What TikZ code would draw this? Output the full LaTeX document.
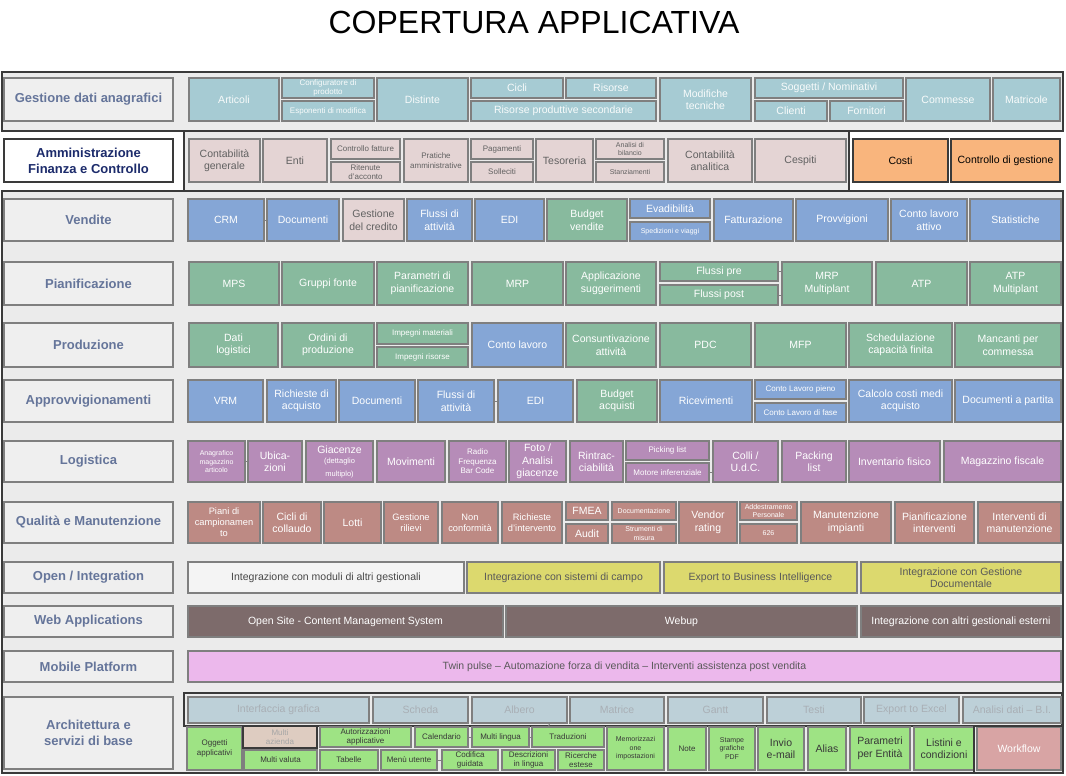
\documentclass[tikz,border=0pt]{standalone}
\usepackage{fontspec}
\setmainfont{Liberation Sans}
\usepackage{tikz}
\definecolor{boxline}{HTML}{7F7F7F}
\definecolor{frameline}{HTML}{3A3A3A}
\definecolor{framefill}{HTML}{EBEBEB}
\definecolor{labelfill}{HTML}{EFEFEF}
\definecolor{labeltext}{HTML}{65759A}
\definecolor{amminnavy}{HTML}{1C2B6B}
\definecolor{anagfill}{HTML}{A6CBD3}
\definecolor{amminfill}{HTML}{E4D4D4}
\definecolor{costfill}{HTML}{F9B57D}
\definecolor{salesfill}{HTML}{85A6D6}
\definecolor{planfill}{HTML}{88BA9E}
\definecolor{logfill}{HTML}{B68CB8}
\definecolor{qualfill}{HTML}{BD8A84}
\definecolor{openfill}{HTML}{F4F4F4}
\definecolor{intfill}{HTML}{DCD96E}
\definecolor{webfill}{HTML}{7D6B6B}
\definecolor{mobilefill}{HTML}{ECB8EC}
\definecolor{archfill}{HTML}{BDD0D8}
\definecolor{archtext}{HTML}{A9AFB5}
\definecolor{basefill}{HTML}{9EE384}
\definecolor{aziendafill}{HTML}{DECCC1}
\definecolor{flowfill}{HTML}{D8A4A4}
\tikzset{cell/.style args={#1,#2,#3,#4}{
        at={({(#1+#3)/2},{(#2+#4)/2})},
        minimum width={(#3-#1)*1pt},
        minimum height={(#4-#2)*1pt}
}}
\tikzset{box/.style={
        draw=boxline,
        line width=1.1pt,
        rectangle,
        inner sep=0pt,
        align=center,
        text=white,
        font=\fontsize{10.5}{12.5}\selectfont
}}
\tikzset{anagbox/.style={box, fill=anagfill, text=white!92!anagfill}}
\tikzset{amminbox/.style={box, fill=amminfill, text=black!62}}
\tikzset{costbox/.style={box, draw=frameline, fill=costfill, text=black}}
\tikzset{salesbox/.style={box, fill=salesfill}}
\tikzset{planbox/.style={box, fill=planfill}}
\tikzset{logbox/.style={box, fill=logfill}}
\tikzset{qualbox/.style={box, fill=qualfill}}
\tikzset{openbox/.style={box, fill=openfill, text=black!72}}
\tikzset{intbox/.style={box, fill=intfill, text=black!65}}
\tikzset{webbox/.style={box, fill=webfill}}
\tikzset{mobilebox/.style={box, fill=mobilefill, text=black!65}}
\tikzset{archbox/.style={box, fill=archfill, text=archtext}}
\tikzset{basebox/.style={box, fill=basefill, text=black!78}}
\tikzset{rowlabel/.style={
        draw=boxline,
        line width=1.1pt,
        fill=labelfill,
        inner sep=0pt,
        align=center,
        text=labeltext,
        font=\fontsize{13}{16}\selectfont\bfseries
}}
\tikzset{frame/.style={draw=frameline, line width=1.5pt, fill=framefill, inner sep=0pt}}
\tikzset{outline/.style={draw=frameline, line width=1.3pt, inner sep=0pt}}
\tikzset{linkedge/.style={draw=boxline, line width=1pt}}
\tikzset{smalltxt/.style={font=\fontsize{8}{9.5}\selectfont}}
\tikzset{tinytxt/.style={font=\fontsize{7}{8.4}\selectfont}}
\tikzset{midtxt/.style={font=\fontsize{9.3}{11}\selectfont}}
\begin{document}
\begin{tikzpicture}[x=1pt,y=-1pt]
\useasboundingbox (0,0) rectangle (1066,776);
\node[anchor=base, font=\fontsize{32}{38}\selectfont] (title) at (534,34) {COPERTURA APPLICATIVA};

\node[frame, cell={2,72,1063,131}] (fanag) {};
\node[frame, cell={184,131,849,191}] (fammin) {};
\node[frame, cell={2,191,1063,773}] (fmain) {};
\node[outline, cell={184,693,1062,726}] (farch) {};

\node[rowlabel, cell={4,78,173,121}] (lanag) {Gestione dati anagrafici};
\node[rowlabel, fill=white, draw=frameline, text=amminnavy, cell={4,139,173,182}] (lammin) {Amministrazione\\Finanza e Controllo};
\node[rowlabel, cell={4,199,173,241}] (lvend) {Vendite};
\node[rowlabel, cell={4,262,173,305}] (lpian) {Pianificazione};
\node[rowlabel, cell={4,323,173,367}] (lprod) {Produzione};
\node[rowlabel, cell={4,380,173,422}] (lacq) {Approvvigionamenti};
\node[rowlabel, cell={4,441,173,482}] (llog) {Logistica};
\node[rowlabel, cell={4,502,173,543}] (lqual) {Qualità e Manutenzione};
\node[rowlabel, cell={4,562,173,593}] (lopen) {Open / Integration};
\node[rowlabel, cell={4,606,173,637}] (lweb) {Web Applications};
\node[rowlabel, cell={4,651,173,682}] (lmob) {Mobile Platform};
\node[rowlabel, cell={4,697,173,769}] (larch) {Architettura e\\servizi di base};

\node[anagbox, cell={189,78,279,121}] (art) {Articoli};
\node[anagbox, smalltxt, cell={282,78,374,98}] (conf) {Configuratore di\\prodotto};
\node[anagbox, smalltxt, cell={282,101,374,121}] (espo) {Esponenti di modifica};
\node[anagbox, cell={377,78,468,121}] (dist) {Distinte};
\node[anagbox, cell={471,78,563,98}] (cicli) {Cicli};
\node[anagbox, cell={566,78,656,98}] (risorse) {Risorse};
\node[anagbox, cell={471,101,656,121}] (rps) {Risorse produttive secondarie};
\node[anagbox, cell={660,78,751,121}] (modtec) {Modifiche\\tecniche};
\node[anagbox, cell={755,78,903,98}] (sogg) {Soggetti / Nominativi};
\node[anagbox, cell={755,101,827,121}] (clienti) {Clienti};
\node[anagbox, cell={830,101,903,121}] (fornit) {Fornitori};
\node[anagbox, cell={906,78,990,121}] (commesse) {Commesse};
\node[anagbox, cell={993,78,1060,121}] (matric) {Matricole};

\node[amminbox, cell={189,139,260,182}] (cgen) {Contabilità\\generale};
\node[amminbox, cell={263,139,327,182}] (enti) {Enti};
\node[amminbox, smalltxt, cell={331,139,400,159}] (cfatt) {Controllo fatture};
\node[amminbox, smalltxt, cell={331,162,400,182}] (riten) {Ritenute\\d'acconto};
\node[amminbox, smalltxt, cell={404,139,468,182}] (prat) {Pratiche\\amministrative};
\node[amminbox, smalltxt, cell={471,139,533,159}] (pagam) {Pagamenti};
\node[amminbox, smalltxt, cell={471,162,533,182}] (sollec) {Solleciti};
\node[amminbox, cell={536,139,593,182}] (tesor) {Tesoreria};
\node[amminbox, tinytxt, cell={596,139,664,159}] (analisi) {Analisi di\\bilancio};
\node[amminbox, tinytxt, cell={596,162,664,182}] (stanz) {Stanziamenti};
\node[amminbox, cell={668,139,752,182}] (canal) {Contabilità\\analitica};
\node[amminbox, cell={755,139,846,182}] (cespiti) {Cespiti};
\node[costbox, cell={853,139,948,182}] (costi) {Costi};
\node[costbox, cell={951,139,1060,182}] (cgest) {Controllo di gestione};

\node[salesbox, cell={188,199,264,241}] (crm) {CRM};
\node[salesbox, cell={267,199,339,241}] (vdoc) {Documenti};
\node[amminbox, cell={343,199,404,241}] (gcred) {Gestione\\del credito};
\node[salesbox, cell={407,199,472,241}] (vflussi) {Flussi di\\attività};
\node[salesbox, cell={475,199,544,241}] (vedi) {EDI};
\node[planbox, cell={547,199,627,241}] (bvend) {Budget\\vendite};
\node[salesbox, cell={630,199,710,218}] (evad) {Evadibilità};
\node[salesbox, tinytxt, cell={630,222,710,241}] (sped) {Spedizioni e viaggi};
\node[salesbox, cell={714,199,793,241}] (fatt) {Fatturazione};
\node[salesbox, cell={796,199,888,241}] (provv) {Provvigioni};
\node[salesbox, cell={891,199,967,241}] (clatt) {Conto lavoro\\attivo};
\node[salesbox, cell={970,199,1061,241}] (stat) {Statistiche};

\node[planbox, cell={189,262,279,305}] (mps) {MPS};
\node[planbox, cell={282,262,374,305}] (gfonte) {Gruppi fonte};
\node[planbox, cell={377,262,468,305}] (parpian) {Parametri di\\pianificazione};
\node[planbox, cell={472,262,563,305}] (mrp) {MRP};
\node[planbox, cell={566,262,656,305}] (appsug) {Applicazione\\suggerimenti};
\node[planbox, cell={660,262,778,281}] (fpre) {Flussi pre};
\node[planbox, cell={660,285,778,305}] (fpost) {Flussi post};
\node[planbox, cell={782,262,872,305}] (mrpm) {MRP\\Multiplant};
\node[planbox, cell={876,262,967,305}] (atp) {ATP};
\node[planbox, cell={970,262,1061,305}] (atpm) {ATP\\Multiplant};

\node[planbox, cell={189,323,278,367}] (datilog) {Dati\\logistici};
\node[planbox, cell={282,323,374,367}] (ordprod) {Ordini di\\produzione};
\node[planbox, smalltxt, cell={377,323,468,344}] (impmat) {Impegni materiali};
\node[planbox, smalltxt, cell={377,347,468,367}] (impris) {Impegni risorse};
\node[salesbox, cell={472,323,563,367}] (clav) {Conto lavoro};
\node[planbox, cell={566,323,656,367}] (consunt) {Consuntivazione\\attività};
\node[planbox, cell={660,323,751,367}] (pdc) {PDC};
\node[planbox, cell={755,323,846,367}] (mfp) {MFP};
\node[planbox, cell={849,323,952,367}] (sched) {Schedulazione\\capacità finita};
\node[planbox, cell={955,323,1061,367}] (mancanti) {Mancanti per\\commessa};

\node[salesbox, cell={188,380,263,422}] (vrm) {VRM};
\node[salesbox, cell={267,380,336,422}] (richacq) {Richieste di\\acquisto};
\node[salesbox, cell={339,380,415,422}] (adoc) {Documenti};
\node[salesbox, cell={418,380,494,422}] (aflussi) {Flussi di\\attività};
\node[salesbox, cell={498,380,573,422}] (aedi) {EDI};
\node[planbox, cell={577,380,657,422}] (bacq) {Budget\\acquisti};
\node[salesbox, cell={660,380,752,422}] (ricev) {Ricevimenti};
\node[salesbox, smalltxt, cell={755,380,846,399}] (clpieno) {Conto Lavoro pieno};
\node[salesbox, smalltxt, cell={755,403,846,422}] (clfase) {Conto Lavoro di fase};
\node[salesbox, cell={849,380,952,422}] (costimedi) {Calcolo costi medi\\acquisto};
\node[salesbox, cell={955,380,1061,422}] (docpart) {Documenti a partita};

\node[logbox, tinytxt, cell={188,441,245,482}] (anagmag) {Anagrafico\\magazzino\\articolo};
\node[logbox, cell={248,441,302,482}] (ubic) {Ubica-\\zioni};
\node[logbox, cell={306,441,373,482}] (giac) {Giacenze\\[-2pt]{\fontsize{7.5}{9}\selectfont(dettaglio}\\{\fontsize{7.5}{9}\selectfont multiplo)}};
\node[logbox, cell={377,441,445,482}] (movim) {Movimenti};
\node[logbox, smalltxt, cell={449,441,506,482}] (radio) {Radio\\Frequenza\\Bar Code};
\node[logbox, cell={509,441,566,482}] (foto) {Foto /\\Analisi\\giacenze};
\node[logbox, cell={570,441,623,482}] (rintr) {Rintrac-\\ciabilità};
\node[logbox, smalltxt, cell={626,441,709,460}] (picking) {Picking list};
\node[logbox, smalltxt, cell={626,463,709,482}] (motore) {Motore inferenziale};
\node[logbox, cell={713,441,778,482}] (colli) {Colli /\\U.d.C.};
\node[logbox, cell={782,441,846,482}] (packing) {Packing\\list};
\node[logbox, cell={849,441,940,482}] (invfis) {Inventario fisico};
\node[logbox, cell={944,441,1061,482}] (magfis) {Magazzino fiscale};

\node[qualbox, midtxt, cell={188,502,260,543}] (piani) {Piani di\\campionamen\\to};
\node[qualbox, cell={263,502,321,543}] (cicoll) {Cicli di\\collaudo};
\node[qualbox, cell={324,502,381,543}] (lotti) {Lotti};
\node[qualbox, midtxt, cell={384,502,438,543}] (grilievi) {Gestione\\rilievi};
\node[qualbox, midtxt, cell={442,502,498,543}] (nonconf) {Non\\conformità};
\node[qualbox, midtxt, cell={502,502,562,543}] (richint) {Richieste\\d'intervento};
\node[qualbox, cell={566,502,608,520}] (fmea) {FMEA};
\node[qualbox, cell={566,524,608,543}] (audit) {Audit};
\node[qualbox, tinytxt, cell={612,502,676,520}] (docum) {Documentazione};
\node[qualbox, tinytxt, cell={612,524,676,543}] (strum) {Strumenti di\\misura};
\node[qualbox, cell={679,502,737,543}] (vendor) {Vendor\\rating};
\node[qualbox, tinytxt, cell={740,502,797,520}] (addestr) {Addestramento\\Personale};
\node[qualbox, tinytxt, cell={740,524,797,543}] (d626) {626};
\node[qualbox, cell={801,502,891,543}] (manimp) {Manutenzione\\impianti};
\node[qualbox, cell={895,502,974,543}] (pianint) {Pianificazione\\interventi};
\node[qualbox, cell={978,502,1061,543}] (intman) {Interventi di\\manutenzione};

\node[openbox, cell={188,562,464,593}] (intmod) {Integrazione con moduli di altri gestionali};
\node[intbox, cell={467,562,660,593}] (intcampo) {Integrazione con sistemi di campo};
\node[intbox, cell={664,562,857,593}] (exportbi) {Export to Business Intelligence};
\node[intbox, cell={861,562,1061,593}] (intdoc) {Integrazione con Gestione\\Documentale};

\node[webbox, cell={188,606,503,637}] (opensite) {Open Site - Content Management System};
\node[webbox, cell={506,606,857,637}] (webup) {Webup};
\node[webbox, cell={861,606,1061,637}] (intest) {Integrazione con altri gestionali esterni};

\node[mobilebox, cell={188,651,1061,682}] (twin) {Twin pulse – Automazione forza di vendita – Interventi assistenza post vendita};

\node[archbox, cell={188,697,369,723}] (intgraf) {Interfaccia grafica};
\node[archbox, cell={373,697,468,723}] (scheda) {Scheda};
\node[archbox, cell={472,697,567,723}] (albero) {Albero};
\node[archbox, cell={570,697,664,723}] (matrice) {Matrice};
\node[archbox, cell={668,697,763,723}] (gantt) {Gantt};
\node[archbox, cell={767,697,861,723}] (testi) {Testi};
\node[archbox, cell={864,697,959,723}] (exportxl) {Export to Excel};
\node[archbox, cell={963,697,1061,723}] (analisibi) {Analisi dati – B.I.};

\node[basebox, smalltxt, cell={187,727,242,770}] (oggetti) {Oggetti\\applicativi};
\node[basebox, smalltxt, draw=frameline, fill=aziendafill, text=black!35, cell={243,726,317,748}] (multiaz) {Multi\\azienda};
\node[basebox, smalltxt, cell={244,750,317,770}] (multival) {Multi valuta};
\node[basebox, smalltxt, cell={320,727,411,747}] (autoriz) {Autorizzazioni\\applicative};
\node[basebox, smalltxt, cell={320,750,378,770}] (tabelle) {Tabelle};
\node[basebox, smalltxt, cell={381,750,437,770}] (menu) {Menù utente};
\node[basebox, smalltxt, cell={415,727,468,747}] (calend) {Calendario};
\node[basebox, smalltxt, cell={472,727,529,747}] (multil) {Multi lingua};
\node[basebox, smalltxt, cell={532,727,604,747}] (traduz) {Traduzioni};
\node[basebox, smalltxt, cell={442,750,498,770}] (codifica) {Codifica\\guidata};
\node[basebox, smalltxt, cell={502,750,555,770}] (descriz) {Descrizioni\\in lingua};
\node[basebox, smalltxt, cell={558,750,604,770}] (ricerche) {Ricerche\\estese};
\node[basebox, tinytxt, cell={607,727,664,770}] (memor) {Memorizzazi\\one\\impostazioni};
\node[basebox, smalltxt, cell={668,727,706,770}] (note) {Note};
\node[basebox, tinytxt, cell={709,727,755,770}] (stampe) {Stampe\\grafiche\\PDF};
\node[basebox, cell={758,727,804,770}] (invio) {Invio\\e-mail};
\node[basebox, cell={808,727,846,770}] (alias) {Alias};
\node[basebox, cell={850,727,910,770}] (parent) {Parametri\\per Entità};
\node[basebox, cell={914,727,974,770}] (listini) {Listini e\\condizioni};
\node[box, fill=flowfill, cell={977,727,1061,770}] (workflow) {Workflow};
\node[outline, cell={974,726,1063,773}] (fflow) {};

\draw[linkedge] (crm) -- (vdoc);
\draw[linkedge] (fpre.east) -- (fpre.east -| mrpm.west);
\draw[linkedge] (fpost.east) -- (fpost.east -| mrpm.west);
\draw[linkedge] (aflussi) -- (aedi);
\draw[linkedge] (anagmag) -- (ubic);
\draw[linkedge] (motore.east) -- (motore.east -| colli.west);
\draw[linkedge] (calend) -- (multil);
\draw[linkedge] (multil) -- (traduz);
\draw[linkedge] (menu) -- (codifica);
\draw[linkedge] ([xshift=-18pt]albero.south east) -- ([xshift=17pt]traduz.north west);
\end{tikzpicture}
\end{document}
